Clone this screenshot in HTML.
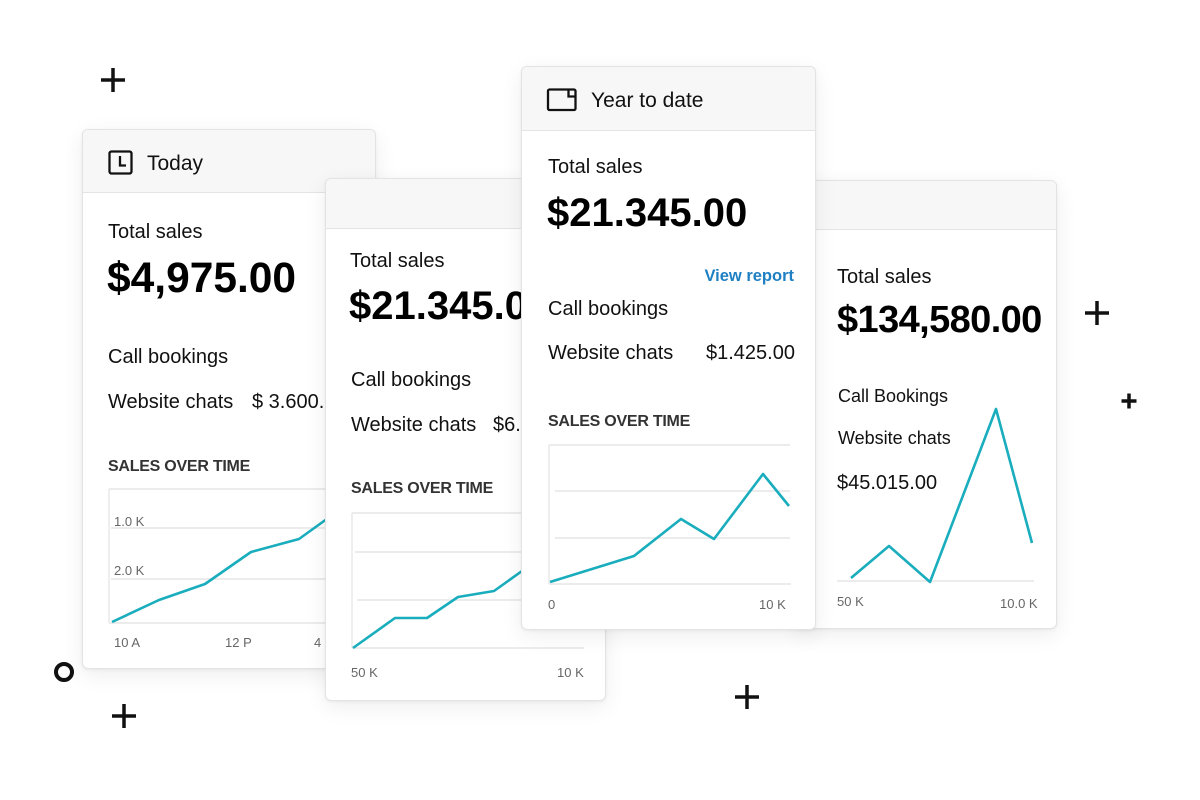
<!DOCTYPE html>
<html><head><meta charset="utf-8">
<style>
html,body{margin:0;padding:0;background:#fff;}
body{width:1200px;height:800px;position:relative;overflow:hidden;font-family:"Liberation Sans",Arial,sans-serif;color:#111;}
.card{position:absolute;background:#fff;border:1px solid #e3e3e3;border-radius:6px;overflow:hidden;box-sizing:border-box;box-shadow:0 6px 22px rgba(0,0,0,0.07),0 1px 3px rgba(0,0,0,0.05);}
.in{position:absolute;width:1200px;height:800px;}
.in div{position:absolute;white-space:nowrap;line-height:1;}
.hdr{background:#f7f7f7;border-bottom:1px solid #e4e4e4;left:0;width:1200px;}
.t20{font-size:20px;}
.t21{font-size:21px;}
.big{font-size:40px;font-weight:bold;color:#000;}
.sot{font-size:16px;font-weight:bold;color:#333;letter-spacing:-0.25px;}
.ax{font-size:13px;color:#666;}
svg.full{position:absolute;left:0;top:0;}
</style></head><body>

<svg class="full" width="1200" height="800" style="position:absolute;left:0;top:0">
  <g stroke="#111" stroke-width="3.5" fill="none">
    <path d="M101 80H125M113 68V92"/>
    <path d="M112 716H136M124 704V728"/>
    <path d="M1085 313H1109M1097 301V325"/>
    <path d="M1121.5 401H1136.5M1129 393.5V408.5"/>
    <path d="M735 697H759M747 685V709"/>
    <circle cx="64" cy="672" r="8" stroke-width="4"/>
  </g>
</svg>

<!-- Card 1 -->
<div class="card" style="left:82px;top:129px;width:294px;height:540px;">
  <div class="in" style="left:-82px;top:-129px;">
    <div class="hdr" style="top:0;height:62px;left:0;top:129px;"></div>
    <svg class="full" width="1200" height="800">
      <g fill="none" stroke="#111" stroke-width="2.3">
        <rect x="108.5" y="150.5" width="22" height="22" rx="2"/>
        <path d="M119 155V164.5H125"/>
      </g>
      <g stroke="#e6e6e6" stroke-width="1.4" fill="none">
        <path d="M108 488H380M108 488V622M108 622H380M110 527H380M110 578H380"/>
      </g>
      <polyline points="111,621 158,599 204,583 250,551 298,538 323,520 340,508" fill="none" stroke="#19adbd" stroke-width="2.6" stroke-linejoin="round"/>
    </svg>
    <div class="t21" style="left:146px;top:152px;">Today</div>
    <div class="t20" style="left:107px;top:221px;">Total sales</div>
    <div class="big" style="left:106px;top:257px;font-size:42.5px;">$4,975.00</div>
    <div class="t20" style="left:107px;top:346px;">Call bookings</div>
    <div class="t20" style="left:107px;top:391px;">Website chats</div>
    <div class="t20" style="left:251px;top:391px;">$ 3.600.00</div>
    <div class="sot" style="left:107px;top:458px;">SALES OVER TIME</div>
    <div class="ax" style="left:113px;top:514px;">1.0 K</div>
    <div class="ax" style="left:113px;top:563px;">2.0 K</div>
    <div class="ax" style="left:113px;top:635px;">10 A</div>
    <div class="ax" style="left:224px;top:635px;">12 P</div>
    <div class="ax" style="left:313px;top:635px;">4</div>
  </div>
</div>

<!-- Card 2 -->
<div class="card" style="left:325px;top:178px;width:281px;height:523px;">
  <div class="in" style="left:-325px;top:-178px;">
    <div class="hdr" style="top:178px;height:49px;"></div>
    <svg class="full" width="1200" height="800">
      <g stroke="#e6e6e6" stroke-width="1.4" fill="none">
        <path d="M351 512H583M351 512V647M351 647H583M354 551H583M356 599H583"/>
      </g>
      <polyline points="352,647 394,617 426,617 457,596 493,590 521,570 545,553" fill="none" stroke="#19adbd" stroke-width="2.6" stroke-linejoin="round"/>
    </svg>
    <div class="t20" style="left:349px;top:250px;">Total sales</div>
    <div class="big" style="left:348px;top:285px;">$21.345.00</div>
    <div class="t20" style="left:350px;top:369px;">Call bookings</div>
    <div class="t20" style="left:350px;top:414px;">Website chats</div>
    <div class="t20" style="left:492px;top:414px;">$6.240.00</div>
    <div class="sot" style="left:350px;top:480px;">SALES OVER TIME</div>
    <div class="ax" style="left:350px;top:665px;">50 K</div>
    <div class="ax" style="left:556px;top:665px;">10 K</div>
  </div>
</div>

<!-- Card 4 -->
<div class="card" style="left:796px;top:180px;width:261px;height:449px;">
  <div class="in" style="left:-796px;top:-180px;">
    <div class="hdr" style="top:180px;height:48px;"></div>
    <svg class="full" width="1200" height="800">
      <path d="M836 580H1033" stroke="#e6e6e6" stroke-width="1.4" fill="none"/>
      <polyline points="850,577 888,545 929,581 995,408 1031,542" fill="none" stroke="#19adbd" stroke-width="2.6" stroke-linejoin="round"/>
    </svg>
    <div class="t20" style="left:836px;top:266px;">Total sales</div>
    <div class="big" style="left:836px;top:300px;font-size:38px;letter-spacing:-0.6px;">$134,580.00</div>
    <div style="left:837px;top:386px;font-size:18px;">Call Bookings</div>
    <div style="left:837px;top:428px;font-size:18px;">Website chats</div>
    <div class="t20" style="left:836px;top:472px;">$45.015.00</div>
    <div class="ax" style="left:836px;top:594px;">50 K</div>
    <div class="ax" style="left:999px;top:596px;">10.0 K</div>
  </div>
</div>

<!-- Card 3 -->
<div class="card" style="left:521px;top:66px;width:295px;height:564px;">
  <div class="in" style="left:-521px;top:-66px;">
    <div class="hdr" style="top:66px;height:63px;"></div>
    <svg class="full" width="1200" height="800">
      <g fill="none" stroke="#111" stroke-width="2.3">
        <rect x="547" y="88.5" width="27.5" height="20.5" rx="1.5"/>
        <path d="M567.5 88.5V95.5H574.5"/>
      </g>
      <g stroke="#e6e6e6" stroke-width="1.4" fill="none">
        <path d="M548 444H789M548 444V583M548 583H790M554 490H789M554 537H789"/>
      </g>
      <polyline points="549,581 633,555 680,518 713,538 762,473 788,505" fill="none" stroke="#19adbd" stroke-width="2.6" stroke-linejoin="round"/>
    </svg>
    <div class="t21" style="left:590px;top:89px;">Year to date</div>
    <div class="t20" style="left:547px;top:156px;">Total sales</div>
    <div class="big" style="left:546px;top:192px;">$21.345.00</div>
    <div style="left:663px;width:130px;text-align:right;top:267px;font-size:16.5px;font-weight:bold;color:#1e80c3;">View report</div>
    <div class="t20" style="left:547px;top:298px;">Call bookings</div>
    <div class="t20" style="left:547px;top:342px;">Website chats</div>
    <div class="t20" style="left:705px;top:342px;">$1.425.00</div>
    <div class="sot" style="left:547px;top:413px;">SALES OVER TIME</div>
    <div class="ax" style="left:547px;top:597px;">0</div>
    <div class="ax" style="left:758px;top:597px;">10 K</div>
  </div>
</div>

</body></html>
